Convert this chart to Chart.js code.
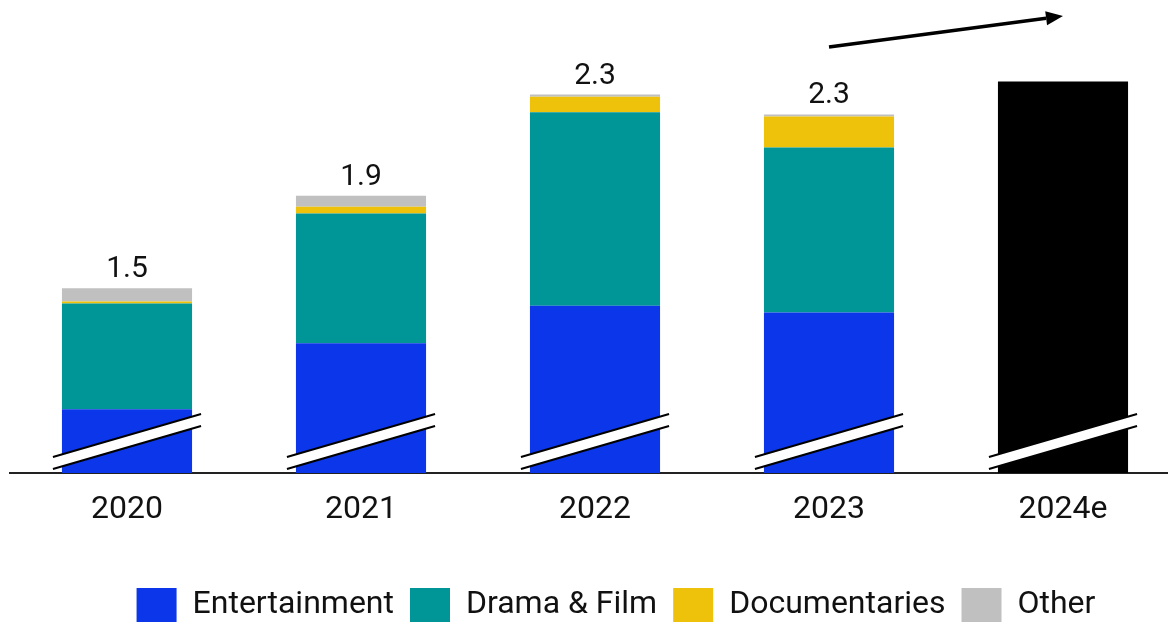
<!DOCTYPE html>
<html lang="en">
<head>
<meta charset="UTF-8">
<title>Revenue by genre</title>
<script src="https://cdn.jsdelivr.net/npm/chart.js"></script>
<style>
  body, html {
    margin: 0;
    padding: 0;
    background: #ffffff;
    overflow: hidden;
    width: 1168px;
    height: 622px;
  }
  .wrap {
    position: relative;
    width: 1190px;
    height: 632px;
  }
</style>
</head>
<body>
<div class="wrap">
  <canvas id="chart"></canvas>
</div>
<script>
// values in bn, axis broken below 0.62
const years = ['2020', '2021', '2022', '2023', '2024e'];
const entertainment = [0.91, 1.21, 1.38, 1.35, null];
const dramaFilm = [0.48, 0.59, 0.88, 0.75, null];
const documentaries = [0.01, 0.03, 0.07, 0.14, null];
const other = [0.06, 0.05, 0.01, 0.01, null];
const forecast = [null, null, null, null, 2.40];
const totalLabels = ['1.5', '1.9', '2.3', '2.3', ''];
const axisBreak = 0.62;

const FONT = 'Roboto';

// legend sits centred on the visible page, not on the wider plot
const legendShift = {
  id: 'legendShift',
  afterLayout(chart) {
    const lg = chart.legend;
    const d = 616 - (lg.left + lg.right) / 2;
    lg.left += d;
    lg.right += d;
  }
};

// white slanted break marks across the bars, total labels, trend arrow
const decorations = {
  id: 'decorations',
  afterDatasetsDraw(chart) {
    const ctx = chart.ctx;
    const xs = chart.scales.x;
    const base = chart.chartArea.bottom;
    const w = chart.getDatasetMeta(4).data[4].width;

    ctx.save();
    for (let i = 0; i < years.length; i++) {
      const cx = xs.getPixelForValue(i);
      const l = cx - w / 2 - 9;
      const r = cx + w / 2 + 9;
      ctx.beginPath();
      ctx.moveTo(l, base - 16);
      ctx.lineTo(r, base - 59);
      ctx.lineTo(r, base - 47);
      ctx.lineTo(l, base - 4);
      ctx.closePath();
      ctx.fillStyle = '#ffffff';
      ctx.fill();
      ctx.strokeStyle = '#000000';
      ctx.lineWidth = 2;
      ctx.beginPath();
      ctx.moveTo(l, base - 16);
      ctx.lineTo(r, base - 59);
      ctx.moveTo(l, base - 4);
      ctx.lineTo(r, base - 47);
      ctx.stroke();
    }

    // totals above the stacks
    ctx.fillStyle = '#111111';
    ctx.font = '30px ' + FONT;
    ctx.textAlign = 'center';
    ctx.textBaseline = 'alphabetic';
    const topMeta = chart.getDatasetMeta(3);
    for (let i = 0; i < 4; i++) {
      const bar = topMeta.data[i];
      ctx.fillText(totalLabels[i], bar.x, bar.y - 11);
    }

    // growth arrow 2023 -> 2024e
    const x1 = xs.getPixelForValue(3);
    const x2 = xs.getPixelForValue(4);
    const top = chart.chartArea.top;
    const y1 = top + 47, y2 = top + 16;
    const ang = Math.atan2(y2 - y1, x2 - x1);
    const hl = 17, hw = 7;
    const bx = x2 - hl * Math.cos(ang), by = y2 - hl * Math.sin(ang);
    ctx.strokeStyle = '#000000';
    ctx.lineWidth = 3.5;
    ctx.beginPath();
    ctx.moveTo(x1, y1);
    ctx.lineTo(bx, by);
    ctx.stroke();
    ctx.fillStyle = '#000000';
    ctx.beginPath();
    ctx.moveTo(x2, y2);
    ctx.lineTo(bx + hw * Math.sin(ang), by - hw * Math.cos(ang));
    ctx.lineTo(bx - hw * Math.sin(ang), by + hw * Math.cos(ang));
    ctx.closePath();
    ctx.fill();
    ctx.restore();
  }
};

const barOpts = { barPercentage: 0.556, categoryPercentage: 1, borderWidth: 0, clip: 0 };

new Chart(document.getElementById('chart'), {
  type: 'bar',
  data: {
    labels: years,
    datasets: [
      { label: 'Entertainment', data: entertainment, backgroundColor: '#0b36ea', ...barOpts },
      { label: 'Drama & Film', data: dramaFilm, backgroundColor: '#009597', ...barOpts },
      { label: 'Documentaries', data: documentaries, backgroundColor: '#eec20b', ...barOpts },
      { label: 'Other', data: other, backgroundColor: '#c0c0c0', ...barOpts },
      { label: 'Forecast', data: forecast, backgroundColor: '#000000', ...barOpts }
    ]
  },
  options: {
    responsive: true,
    maintainAspectRatio: false,
    animation: false,
    layout: { padding: { left: 10, right: 10, top: 0, bottom: 0 } },
    plugins: {
      tooltip: { enabled: false },
      legend: {
        position: 'bottom',
        labels: {
          boxWidth: 40,
          boxHeight: 34,
          padding: 16,
          color: '#111111',
          font: { family: FONT, size: 32 },
          filter: (item) => item.text !== 'Forecast'
        }
      }
    },
    scales: {
      x: {
        stacked: true,
        grid: { display: false, drawTicks: false },
        border: { display: true, color: '#222222', width: 2 },
        ticks: { color: '#111111', padding: 18, font: { family: FONT, size: 32 } },
        afterFit: (axis) => { axis.height = 99; }
      },
      y: {
        stacked: true,
        display: false,
        min: axisBreak,
        max: axisBreak + 473 / 220
      }
    }
  },
  plugins: [legendShift, decorations]
});
</script>
</body>
</html>
